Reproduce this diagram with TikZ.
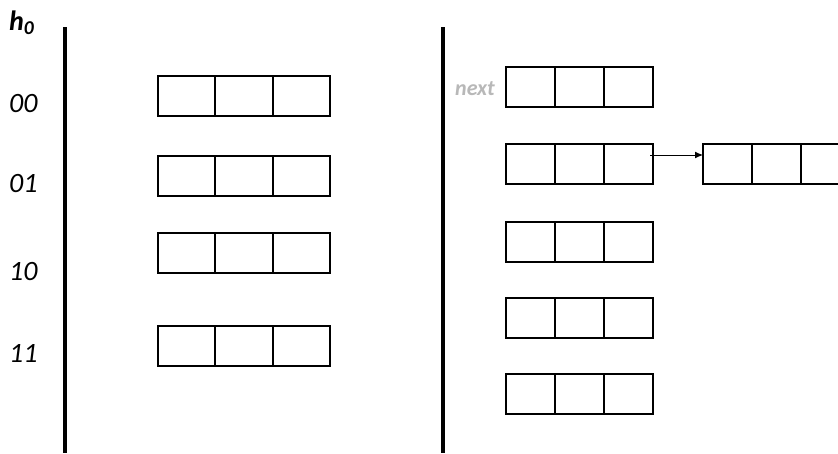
\documentclass[tikz,border=0pt]{standalone}
\usepackage{fontspec}
\setmainfont{Carlito}
\usetikzlibrary{arrows.meta}
\begin{document}
\begin{tikzpicture}[x=1pt,y=-1pt,
  cell/.style={draw,line width=2pt,minimum height=40pt,inner sep=0pt,outer sep=0pt},
  lcell/.style={cell,minimum width=57.5pt},
  rcell/.style={cell,minimum width=49pt},
  lab/.style={font=\fontsize{28}{30}\selectfont\itshape,anchor=base west,inner sep=0pt},
  bar/.style={line width=4.5pt}]
\useasboundingbox (0,0) rectangle (838,453);
\coordinate (la) at (65,27); \coordinate (lb) at (65,453);
\coordinate (ra) at (443,27); \coordinate (rb) at (443,453);
\draw[bar] (la) -- (lb);
\draw[bar] (ra) -- (rb);
\node[lab,font=\fontsize{28}{30}\selectfont\bfseries\itshape] (h) at (9,30) {h\textsubscript{0}};
\node[lab] (l00) at (9,112) {00};
\node[lab] (l01) at (9,192) {01};
\node[lab] (l10) at (9,280) {10};
\node[lab] (l11) at (9,362) {11};
% left boxes
\foreach \n/\y in {a/95.5,b/176,c/252.5,d/346}{
  \node[lcell] (\n1) at (186.5,\y) {};
  \node[lcell,anchor=west] (\n2) at (\n1.east) {};
  \node[lcell,anchor=west] (\n3) at (\n2.east) {};
}
% right boxes
\foreach \n/\y in {p/86.5,q/164,r/241.5,s/318,t/394}{
  \node[rcell] (\n1) at (530.5,\y) {};
  \node[rcell,anchor=west] (\n2) at (\n1.east) {};
  \node[rcell,anchor=west] (\n3) at (\n2.east) {};
}
\node[rcell] (x1) at (727.5,164) {};
\node[rcell,anchor=west] (x2) at (x1.east) {};
\node[rcell,anchor=west] (x3) at (x2.east) {};
\node[lab,font=\fontsize{22}{24}\selectfont\bfseries\itshape,text=black!28] (nx) at (455,95) {next};
\coordinate (as) at (650,155);
\draw[line width=1pt,-{Latex[length=8pt,width=7pt]}] (as) -- (x1.west |- as);
\end{tikzpicture}
\end{document}
